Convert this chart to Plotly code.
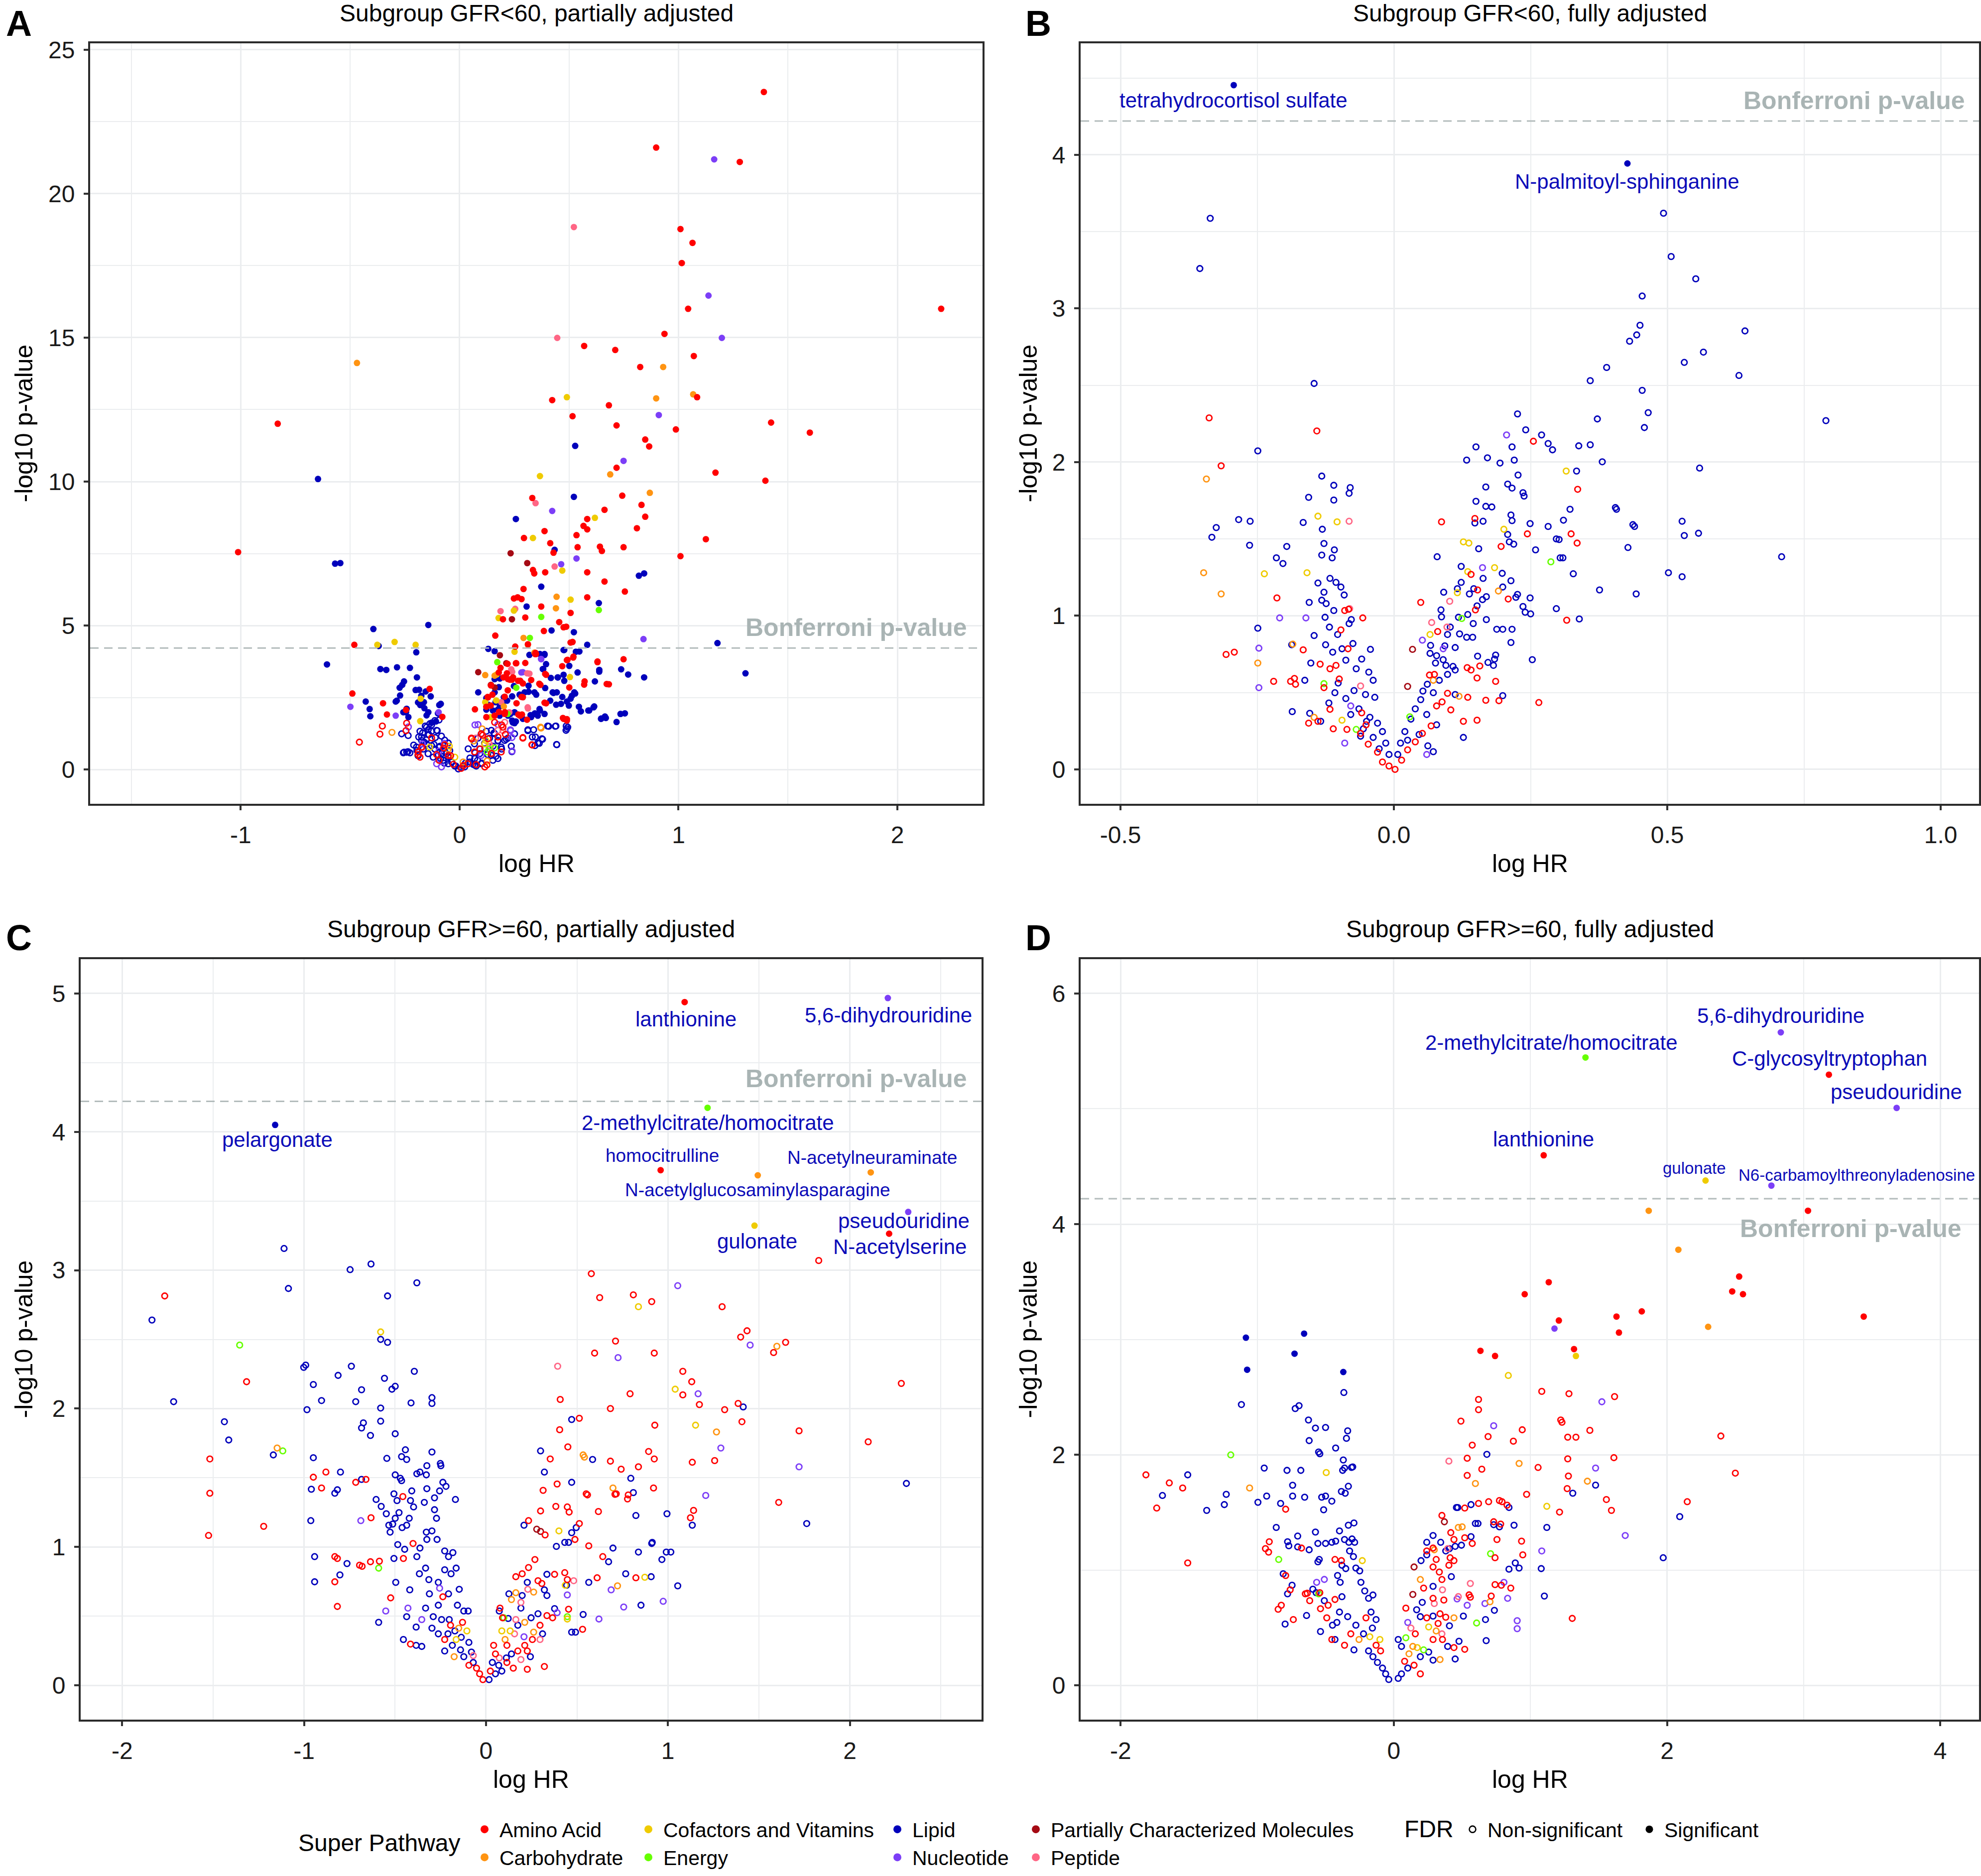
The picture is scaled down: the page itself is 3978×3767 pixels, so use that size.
import plotly.graph_objects as go

# ---- categories -------------------------------------------------------------
PATHWAY_KEYS = ["AMINO", "CARB", "COFAC", "ENERGY", "LIPID", "NUCL", "PART", "PEPT"]
PATHWAY_NAMES = ["Amino Acid", "Carbohydrate", "Cofactors and Vitamins", "Energy",
                 "Lipid", "Nucleotide", "Partially Characterized Molecules", "Peptide"]
COLOURS = {
    "AMINO": "#FF0000", "CARB": "#FF9412", "COFAC": "#EFCB00", "ENERGY": "#66FF00",
    "LIPID": "#0000BB", "NUCL": "#7C3EF7", "PART": "#A50A14", "PEPT": "#FF6685",
}
BONFERRONI = 4.22

TITLES = {
    "A": "Subgroup GFR&lt;60, partially adjusted",
    "B": "Subgroup GFR&lt;60, fully adjusted",
    "C": "Subgroup GFR&gt;=60, partially adjusted",
    "D": "Subgroup GFR&gt;=60, fully adjusted",
}

# axis limits / ticks
A_XRANGE, A_YRANGE = [-1.688, 2.389], [-1.19, 25.22]
B_XRANGE, B_YRANGE = [-0.573, 1.070], [-0.224, 4.726]
C_XRANGE, C_YRANGE = [-2.228, 2.724], [-0.248, 5.248]
D_XRANGE, D_YRANGE = [-2.293, 4.284], [-0.298, 6.298]
A_XTICKS, A_YTICKS = [-1, 0, 1, 2], [0, 5, 10, 15, 20, 25]
B_XTICKS, B_YTICKS = [-0.5, 0.0, 0.5, 1.0], [0, 1, 2, 3, 4]
C_XTICKS, C_YTICKS = [-2, -1, 0, 1, 2], [0, 1, 2, 3, 4, 5]
D_XTICKS, D_YTICKS = [-2, 0, 2, 4], [0, 2, 4, 6]

# ---- panel A : (log HR, -log10 p) ; _S = FDR significant, _N = non-significant
A_AMINO_S = [(1.39, 23.53), (0.898, 21.6), (1.28, 21.1), (1.009, 18.77), (1.064, 18.29), (1.015, 17.59),
             (1.044, 16.0), (2.20, 16.0), (0.936, 15.13), (0.569, 14.71), (0.711, 14.57), (1.07, 14.36),
             (0.825, 13.98), (0.423, 12.83), (1.085, 12.93), (0.516, 12.27), (0.682, 12.65), (0.717, 11.95),
             (1.423, 12.05), (0.988, 11.81), (1.60, 11.70), (-0.831, 12.01), (0.848, 11.46), (0.866, 11.22),
             (1.169, 10.31), (1.397, 10.03), (0.717, 10.48), (0.332, 9.43), (0.743, 9.51), (0.831, 9.19),
             (0.662, 9.02), (0.583, 8.70), (0.848, 8.78), (0.566, 8.46), (0.583, 8.34), (0.534, 8.14),
             (0.388, 8.28), (0.294, 8.04), (0.810, 8.38), (1.125, 8.0), (0.414, 7.86), (0.539, 7.72),
             (0.641, 7.74), (0.650, 7.59), (0.749, 7.72), (1.009, 7.41), (0.429, 7.53), (-1.012, 7.55),
             (0.391, 6.85), (0.583, 6.85), (0.335, 6.93), (0.341, 6.81), (0.662, 6.53), (0.292, 6.27),
             (0.755, 6.18), (0.265, 5.98), (0.248, 5.94), (0.283, 5.92), (0.583, 5.98), (0.373, 5.66),
             (0.507, 5.44), (0.300, 5.28), (0.198, 5.22), (0.163, 4.65), (0.455, 5.12), (0.475, 4.94),
             (0.487, 4.96), (0.385, 4.81), (0.507, 4.41), (0.516, 4.43), (-0.481, 4.33), (0.254, 4.27),
             (0.312, 4.35), (0.347, 4.05), (0.630, 3.75), (0.749, 3.83), (0.519, 3.89), (0.493, 3.81),
             (0.469, 3.59), (0.219, 3.67), (0.257, 3.69), (0.187, 3.53), (0.216, 3.34), (0.230, 3.12),
             (0.239, 3.12), (0.391, 3.32), (0.571, 3.06), (0.682, 2.96), (0.364, 2.98), (0.277, 3.08),
             (0.143, 2.92), (-0.490, 2.64), (-0.137, 2.80), (-0.350, 2.30), (-0.245, 2.07), (-0.332, 1.91),
             (0.128, 2.52), (0.283, 2.52), (0.122, 2.18), (0.070, 2.09), (0.388, 2.32), (0.277, 1.87),
             (0.268, 1.91), (0.207, 1.99), (0.472, 1.79), (0.490, 1.75), (-0.079, 1.83), (0.15, 2.6),
             (0.20, 3.2), (0.26, 2.3), (0.18, 2.0), (0.30, 3.7), (0.22, 2.75),
             (0.179, 3.37), (0.221, 3.14), (0.244, 3.20), (0.259, 3.69), (0.267, 3.08), (0.289, 2.99),
             (0.327, 3.11), (0.349, 4.01), (0.395, 3.29), (0.369, 2.94), (0.490, 3.80), (0.520, 3.92),
             (0.630, 3.73), (0.569, 2.95), (0.501, 2.85), (0.395, 2.30), (0.289, 2.51), (0.285, 1.91),
             (0.308, 1.73), (0.274, 1.88), (0.206, 1.93), (0.206, 2.53), (0.160, 1.87), (0.130, 2.51),
             (0.142, 2.22), (0.122, 1.82), (0.475, 1.76), (0.490, 1.70), (0.672, 2.97), (0.345, 4.01)]
A_AMINO_N = [(-0.458, 0.95), (-0.364, 1.23), (-0.353, 1.51), (-0.245, 1.35), (-0.242, 1.61), (-0.190, 0.52),
             (-0.172, 0.77), (-0.041, 0.48), (0.055, 1.07), (0.105, 1.19), (0.192, 1.55), (0.289, 1.11),
             (0.332, 0.85), (0.146, 0.56), (0.125, 0.16), (0.017, 0.14), (-0.105, 0.52), (-0.073, 0.75),
             (-0.189, 0.61), (-0.181, 0.43), (-0.068, 0.86), (-0.094, 0.32), (-0.052, 0.49), (-0.029, 0.18),
             (-0.174, 0.78), (-0.128, 1.10), (0.054, 1.09), (0.099, 1.24), (0.068, 0.61), (0.092, 0.72),
             (0.130, 1.07), (0.160, 1.64), (0.198, 1.47), (0.209, 1.22), (0.175, 1.13), (0.190, 0.61),
             (0.289, 1.09), (0.330, 0.86), (0.007, 0.04), (0.038, 0.20), (0.076, 0.17), (0.145, 0.55),
             (0.115, 0.09)]
A_CARB_S = [(-0.469, 14.12), (0.930, 13.98), (0.898, 12.89), (1.067, 13.03), (0.688, 10.25), (0.869, 9.61),
            (0.443, 6.0), (0.440, 5.60), (0.292, 4.57), (0.312, 4.33), (0.117, 3.28), (0.160, 3.26),
            (0.342, 4.06), (0.202, 2.19)]
A_CARB_N = [(-0.309, 1.29), (-0.052, 0.71), (0.064, 0.99), (0.370, 1.47), (0.103, 1.41), (0.372, 1.44),
            (0.016, 0.26), (0.126, 0.30)]
A_COFAC_S = [(0.490, 12.93), (0.367, 10.19), (0.618, 8.74), (0.335, 8.04), (0.469, 6.91), (0.507, 5.90),
             (0.178, 5.26), (0.248, 5.52), (-0.297, 4.43), (-0.201, 4.33), (-0.376, 4.33), (0.251, 4.09),
             (-0.178, 2.46), (0.169, 3.30), (-0.180, 1.68), (0.117, 2.34), (0.167, 2.40), (0.142, 1.82),
             (0.504, 3.21)]
A_COFAC_N = [(-0.047, 0.81), (0.120, 1.01), (-0.136, 0.78), (-0.022, 0.43), (0.115, 0.89)]
A_ENERGY_S = [(0.636, 5.54), (0.373, 5.30), (0.321, 4.57), (0.172, 3.73), (0.259, 2.84), (0.219, 1.93)]
A_ENERGY_N = [(0.134, 0.71), (0.160, 0.75), (0.126, 0.61)]
A_LIPID_S = [(0.528, 11.24), (-0.647, 10.09), (0.522, 9.47), (0.257, 8.70), (0.434, 7.63), (-0.569, 7.15),
             (-0.545, 7.17), (0.819, 6.73), (0.843, 6.81), (0.373, 6.35), (0.636, 5.78), (0.306, 5.66),
             (-0.394, 4.88), (-0.143, 5.02), (0.522, 4.77), (0.420, 4.83), (-0.370, 4.29), (-0.198, 4.07),
             (0.131, 4.19), (0.160, 4.11), (0.475, 4.15), (0.583, 4.33), (0.531, 4.09), (1.178, 4.39),
             (-0.606, 3.65), (-0.362, 3.49), (-0.335, 3.46), (-0.286, 3.55), (-0.227, 3.53), (0.367, 4.01),
             (0.388, 4.01), (0.382, 3.49), (0.638, 3.46), (0.738, 3.48), (0.770, 3.30), (1.306, 3.34),
             (0.417, 3.18), (0.449, 3.20), (0.478, 3.08), (0.618, 3.06), (0.843, 3.20), (-0.195, 3.20),
             (-0.254, 3.06), (-0.262, 2.94), (-0.274, 2.84), (-0.201, 2.76), (-0.175, 2.56), (0.085, 2.68),
             (0.160, 3.14), (0.184, 3.16), (0.248, 2.90), (0.315, 2.70), (0.350, 2.60), (0.429, 2.66),
             (0.469, 2.52), (0.507, 2.46), (0.528, 2.64), (0.499, 2.22), (0.367, 2.05), (0.344, 1.95),
             (0.324, 1.89), (0.545, 2.18), (0.592, 2.05), (0.612, 2.16), (0.647, 1.77), (0.668, 1.79),
             (0.717, 1.65), (0.735, 1.93), (0.755, 1.95), (-0.429, 2.36), (-0.411, 2.10), (-0.408, 1.85),
             (-0.292, 2.36), (-0.245, 1.99), (-0.163, 2.34), (-0.093, 2.24), (-0.099, 1.95), (-0.108, 1.67),
             (-0.128, 1.63), (0.122, 2.48), (0.184, 2.20), (0.257, 1.67),
             (-0.272, 2.57), (-0.287, 2.39), (-0.185, 2.77), (-0.155, 2.71), (-0.132, 2.54), (-0.190, 2.33),
             (-0.180, 2.24), (-0.161, 2.13), (-0.143, 1.99), (-0.151, 1.88), (-0.086, 2.28), (-0.242, 2.11),
             (-0.257, 1.99), (-0.234, 1.82), (0.160, 2.68), (0.179, 2.86), (0.202, 2.51), (0.217, 2.39),
             (0.240, 2.54), (0.274, 2.60), (0.297, 2.68), (0.315, 2.91), (0.342, 2.68), (0.391, 2.83),
             (0.425, 2.68), (0.444, 2.68), (0.414, 2.39), (0.441, 2.25), (0.463, 2.28), (0.490, 2.36),
             (0.513, 2.56), (0.524, 2.68), (0.365, 2.10), (0.342, 1.93), (0.357, 1.87), (0.388, 1.93),
             (0.554, 2.02), (0.588, 2.05), (0.615, 2.19), (0.638, 3.40), (0.539, 3.37), (0.501, 3.60),
             (0.475, 3.29), (0.448, 3.20), (0.380, 3.49), (0.395, 3.66), (0.388, 3.98), (0.319, 3.98),
             (0.478, 4.15), (0.547, 4.10), (0.646, 1.76), (0.664, 1.84), (0.327, 1.82), (0.289, 1.76),
             (0.251, 1.99), (0.232, 1.93), (0.122, 2.08), (0.152, 2.05), (0.175, 2.08), (0.240, 1.70),
             (0.251, 1.61), (0.130, 2.25), (0.164, 2.34), (0.198, 2.34), (0.183, 1.87), (0.221, 1.87)]
A_LIPID_N = [(-0.254, 0.60), (-0.236, 0.62), (-0.195, 0.66), (-0.152, 1.03), (-0.143, 1.39), (-0.128, 1.55),
             (-0.102, 1.35), (-0.117, 0.87), (-0.090, 0.81), (-0.070, 0.62), (-0.052, 0.44), (-0.035, 0.26),
             (-0.017, 0.12), (-0.006, 0.02), (-0.187, 1.13), (-0.169, 1.27), (-0.157, 1.51), (-0.140, 1.21),
             (-0.111, 1.11), (-0.210, 0.85), (-0.190, 0.48), (-0.166, 0.71), (-0.087, 0.38), (-0.070, 0.22),
             (0.009, 0.06), (0.026, 0.22), (0.047, 0.40), (0.070, 0.58), (0.093, 0.71), (0.114, 0.91),
             (0.137, 1.09), (0.157, 1.27), (0.175, 0.99), (0.192, 0.71), (0.213, 1.05), (0.239, 0.62),
             (0.312, 1.35), (0.332, 1.13), (0.344, 0.83), (0.364, 0.91), (0.379, 1.05), (0.402, 1.51),
             (0.440, 1.51), (0.443, 0.87), (0.490, 1.41), (0.487, 1.51), (0.102, 0.22), (0.082, 0.32),
             (0.128, 0.52), (0.152, 0.81), (0.166, 0.46), (0.076, 0.12), (0.061, 0.18),
             (-0.265, 1.24), (-0.235, 1.18), (-0.257, 0.58), (-0.242, 0.60), (-0.227, 0.58), (-0.197, 0.78),
             (-0.181, 1.33), (-0.174, 1.13), (-0.162, 0.95), (-0.151, 1.47), (-0.136, 1.59), (-0.113, 1.70),
             (-0.094, 1.72), (-0.144, 1.22), (-0.128, 1.33), (-0.105, 1.36), (-0.083, 1.16), (-0.068, 1.02),
             (-0.151, 0.89), (-0.128, 0.83), (-0.113, 0.71), (-0.094, 0.77), (-0.071, 0.83), (-0.052, 0.92),
             (-0.144, 0.55), (-0.121, 0.43), (-0.098, 0.49), (-0.075, 0.32), (-0.052, 0.20), (-0.037, 0.26),
             (-0.022, 0.12), (-0.045, 0.66), (-0.060, 0.55), (-0.083, 0.55), (-0.189, 0.49), (-0.174, 1.01),
             (0.039, 0.72), (0.068, 0.89), (0.084, 1.09), (0.099, 1.24), (0.122, 1.33), (0.145, 1.36),
             (0.160, 1.24), (0.175, 1.01), (0.206, 1.01), (0.221, 1.09), (0.251, 1.24), (0.312, 1.38),
             (0.338, 1.38), (0.346, 1.13), (0.357, 0.92), (0.376, 1.07), (0.407, 1.50), (0.437, 1.50),
             (0.486, 1.36), (0.494, 1.47), (0.444, 0.86), (0.236, 0.81), (0.244, 1.64), (0.152, 0.32),
             (0.175, 0.38), (0.145, 0.49), (0.115, 0.72), (0.092, 0.55), (0.069, 0.38), (0.046, 0.26),
             (0.023, 0.09), (0.069, 0.15), (0.099, 0.20), (0.190, 0.78)]
A_NUCL_S = [(1.163, 21.19), (1.137, 16.46), (1.198, 14.99), (0.910, 12.31), (0.749, 10.72), (0.423, 8.98),
            (0.464, 7.13), (0.534, 7.33), (0.840, 4.53), (-0.499, 2.18), (-0.292, 1.87), (-0.096, 1.99),
            (0.373, 3.83), (0.289, 3.38), (0.372, 3.84), (0.282, 3.37)]
A_NUCL_N = [(-0.070, 0.91), (0.239, 1.11), (0.070, 1.55), (0.233, 1.35), (-0.234, 1.48), (-0.170, 0.89),
            (-0.094, 0.64), (-0.105, 0.20), (-0.083, 0.09), (0.084, 1.56), (0.175, 1.56), (0.240, 0.64),
            (0.232, 1.38), (0.099, 0.49)]
A_PART_S = [(0.233, 7.51), (0.309, 7.17), (0.085, 3.38), (0.213, 3.69), (0.143, 2.94), (0.239, 5.22),
            (0.184, 3.97), (0.160, 2.85)]
A_PEPT_S = [(0.522, 18.84), (0.446, 14.99), (0.347, 9.25), (0.434, 7.05), (0.187, 5.50), (0.254, 5.58),
            (0.309, 3.34), (0.312, 2.12), (0.236, 3.48), (0.227, 1.99), (0.240, 3.39), (0.319, 3.33),
            (0.190, 2.34), (0.311, 2.16)]
A_PEPT_N = [(0.198, 1.35), (0.134, 0.91), (0.206, 1.64), (0.073, 1.09), (0.141, 0.81), (0.175, 1.36)]

# ---- panel B
B_LIPID_S = [(-0.293, 4.454), (0.427, 3.944)]
B_LIPID_N = [(-0.336, 3.587), (-0.355, 3.260), (-0.146, 2.512), (-0.249, 2.073), (-0.284, 1.626), (-0.263, 1.615),
             (-0.325, 1.574), (-0.333, 1.511), (-0.264, 1.459), (-0.196, 1.451), (-0.215, 1.377), (-0.203, 1.340),
             (-0.132, 1.909), (-0.110, 1.849), (-0.080, 1.834), (-0.082, 1.797), (-0.156, 1.771), (-0.110, 1.753),
             (-0.166, 1.607), (-0.131, 1.563), (-0.128, 1.470), (-0.109, 1.429), (-0.132, 1.395), (-0.113, 1.377),
             (-0.139, 1.213), (-0.117, 1.243), (-0.106, 1.217), (-0.097, 1.187), (-0.128, 1.153), (-0.155, 1.087),
             (-0.132, 1.101), (-0.124, 1.079), (-0.091, 1.135), (-0.126, 0.990), (-0.078, 0.975), (-0.082, 0.949),
             (-0.110, 1.034), (-0.103, 0.878), (-0.146, 0.871), (-0.118, 0.926), (-0.187, 0.811), (-0.249, 0.919),
             (-0.152, 0.692), (-0.125, 0.811), (-0.112, 0.763), (-0.095, 0.785), (-0.075, 0.819), (-0.088, 0.711),
             (-0.043, 0.781), (-0.069, 0.655), (-0.046, 0.633), (-0.038, 0.580), (-0.059, 0.718), (-0.186, 0.376),
             (-0.154, 0.365), (-0.119, 0.432), (-0.102, 0.562), (-0.073, 0.513), (-0.052, 0.487), (-0.035, 0.469),
             (-0.064, 0.394), (-0.044, 0.339), (-0.030, 0.301), (-0.021, 0.246), (-0.056, 0.264), (-0.038, 0.208),
             (-0.015, 0.171), (-0.009, 0.097), (-0.027, 0.134), (-0.050, 0.313), (-0.061, 0.216), (-0.079, 0.357),
             (-0.088, 0.461), (-0.108, 0.499), (-0.163, 0.580), (-0.134, 0.313),
             (0.493, 3.620), (0.507, 3.338), (0.552, 3.193), (0.454, 3.081), (0.450, 2.891), (0.642, 2.854),
             (0.444, 2.828), (0.431, 2.787), (0.566, 2.716), (0.389, 2.616), (0.531, 2.649), (0.631, 2.564),
             (0.359, 2.530), (0.454, 2.467), (0.465, 2.322), (0.226, 2.314), (0.372, 2.281), (0.790, 2.270),
             (0.458, 2.225), (0.241, 2.210), (0.270, 2.177), (0.150, 2.099), (0.216, 2.099), (0.338, 2.106),
             (0.359, 2.113), (0.282, 2.121), (0.290, 2.080), (0.171, 2.028), (0.220, 2.013), (0.133, 2.013),
             (0.194, 1.994), (0.381, 2.002), (0.559, 1.961), (0.334, 1.942), (0.227, 1.916), (0.208, 1.857),
             (0.216, 1.831), (0.168, 1.838), (0.236, 1.801), (0.238, 1.779), (0.150, 1.745), (0.168, 1.712),
             (0.179, 1.708), (0.322, 1.693), (0.405, 1.704), (0.407, 1.693), (0.214, 1.656), (0.310, 1.622),
             (0.163, 1.615), (0.148, 1.604), (0.216, 1.619), (0.249, 1.600), (0.282, 1.581), (0.527, 1.615),
             (0.437, 1.593), (0.440, 1.581), (0.297, 1.500), (0.302, 1.496), (0.531, 1.522), (0.557, 1.537),
             (0.208, 1.529), (0.211, 1.481), (0.219, 1.466), (0.428, 1.444), (0.259, 1.429), (0.155, 1.436),
             (0.309, 1.377), (0.304, 1.377), (0.709, 1.384), (0.079, 1.384), (0.328, 1.273), (0.502, 1.280),
             (0.527, 1.254), (0.198, 1.276), (0.163, 1.243), (0.123, 1.321), (0.123, 1.217), (0.376, 1.168),
             (0.214, 1.228), (0.443, 1.142), (0.199, 1.187), (0.146, 1.176), (0.138, 1.142), (0.116, 1.176),
             (0.091, 1.153), (0.162, 1.105), (0.169, 1.124), (0.226, 1.139), (0.223, 1.120), (0.249, 1.116),
             (0.297, 1.046), (0.236, 1.060), (0.240, 1.023), (0.339, 0.979), (0.250, 1.012), (0.152, 1.064),
             (0.135, 1.008), (0.145, 0.949), (0.169, 0.975), (0.188, 0.912), (0.199, 0.912), (0.216, 0.912),
             (0.086, 1.038), (0.087, 0.993), (0.118, 0.990), (0.103, 0.926), (0.098, 0.878), (0.120, 0.882),
             (0.133, 0.860), (0.144, 0.860), (0.214, 0.826), (0.067, 0.807), (0.093, 0.804), (0.112, 0.793),
             (0.153, 0.737), (0.186, 0.744), (0.184, 0.718), (0.172, 0.696), (0.182, 0.677), (0.066, 0.755),
             (0.078, 0.740), (0.090, 0.714), (0.076, 0.692), (0.095, 0.677), (0.108, 0.670), (0.112, 0.647),
             (0.098, 0.618), (0.083, 0.580), (0.061, 0.554), (0.053, 0.510), (0.072, 0.499), (0.112, 0.487),
             (0.199, 0.480), (0.253, 0.714), (0.127, 0.208), (0.049, 0.454), (0.039, 0.394), (0.031, 0.327),
             (0.060, 0.357), (0.078, 0.290), (0.020, 0.246), (0.012, 0.171), (0.007, 0.097), (0.025, 0.190),
             (0.046, 0.227), (0.072, 0.115), (0.062, 0.153)]
B_AMINO_N = [(-0.338, 2.288), (-0.316, 1.976), (-0.141, 2.203), (-0.307, 0.748), (-0.292, 0.763), (-0.214, 1.116),
             (-0.166, 0.778), (-0.220, 0.573), (-0.189, 0.573), (-0.182, 0.592), (-0.180, 0.554), (-0.090, 1.034),
             (-0.083, 1.042), (-0.057, 0.986), (-0.097, 0.908), (-0.084, 0.785), (-0.135, 0.685), (-0.117, 0.655),
             (-0.128, 0.532), (-0.100, 0.588), (-0.106, 0.677), (-0.117, 0.391), (-0.139, 0.313), (-0.111, 0.264),
             (-0.156, 0.301), (-0.086, 0.260), (-0.059, 0.368), (-0.051, 0.290), (-0.061, 0.234), (-0.047, 0.164),
             (-0.030, 0.112), (-0.021, 0.048), (-0.009, 0.022), (0.002, 0.0), (0.014, 0.060), (0.025, 0.127),
             (0.039, 0.179), (0.052, 0.234), (0.068, 0.283), (0.088, 0.439), (0.087, 1.611), (0.148, 1.633),
             (0.141, 1.269), (0.196, 1.451), (0.244, 1.533), (0.255, 2.136), (0.336, 1.823), (0.324, 1.533),
             (0.335, 1.473), (0.316, 0.971), (0.049, 1.087), (0.153, 1.168), (0.149, 1.038), (0.209, 1.109),
             (0.134, 0.662), (0.141, 0.647), (0.157, 0.673), (0.186, 0.573), (0.152, 0.595), (0.135, 0.469),
             (0.192, 0.447), (0.168, 0.450), (0.265, 0.435), (0.152, 0.320), (0.104, 0.387), (0.127, 0.313),
             (0.078, 0.413), (0.065, 0.614), (0.080, 0.897), (0.074, 0.618), (0.098, 0.495)]
B_CARB_N = [(-0.343, 1.890), (-0.348, 1.280), (-0.316, 1.142), (-0.249, 0.692), (-0.185, 0.815), (0.191, 1.161),
            (0.119, 0.476), (-0.146, 0.339), (0.072, 0.580)]
B_COFAC_N = [(-0.237, 1.273), (-0.159, 1.280), (-0.139, 1.648), (-0.104, 1.611), (0.315, 1.942), (0.127, 1.481),
             (0.137, 1.473), (0.116, 1.150), (0.135, 1.287), (0.201, 1.563), (0.184, 1.313), (0.066, 0.878),
             (-0.095, 0.320)]
B_NUCL_N = [(-0.209, 0.986), (-0.161, 0.986), (-0.247, 0.789), (-0.247, 0.532), (0.206, 2.177), (0.162, 1.313),
            (-0.079, 0.413), (-0.090, 0.171), (0.052, 0.841), (0.090, 0.785), (0.060, 0.097)]
B_PEPT_N = [(-0.082, 1.615), (0.102, 1.094), (0.069, 0.956), (0.097, 0.926), (-0.081, 1.046), (-0.061, 0.543)]
B_ENERGY_N = [(0.287, 1.351), (0.124, 0.982), (-0.128, 0.558), (0.029, 0.342), (-0.069, 0.260)]
B_PART_N = [(0.034, 0.781), (0.025, 0.540)]

# ---- panel C
C_AMINO_S = [(1.092, 4.938), (0.960, 3.723), (2.216, 3.264)]
C_AMINO_N = [(-1.766, 2.814), (-1.316, 2.194), (-1.518, 1.636), (-1.518, 1.388), (-1.525, 1.083), (-1.222, 1.149),
             (-0.949, 1.504), (-0.904, 1.426), (-0.880, 1.541), (-0.831, 0.930), (-0.817, 0.917), (-0.831, 0.748),
             (-0.817, 0.570), (-0.681, 0.860), (-0.695, 0.868), (-0.635, 0.893), (-0.716, 1.467), (-0.660, 1.488),
             (-0.632, 1.211), (-0.457, 1.364), (-0.401, 1.025), (-0.454, 0.917), (-0.524, 0.632), (-0.586, 0.897),
             (-0.415, 0.298), (-0.227, 0.331), (-0.129, 0.455), (-0.052, 0.124), (-0.035, 0.083), (-0.017, 0.041),
             (-0.094, 0.145), (-0.237, 0.640), (-0.195, 0.434),
             (0.579, 2.975), (0.625, 2.802), (0.810, 2.822), (0.911, 2.773), (1.298, 2.736), (1.435, 2.562),
             (1.400, 2.517), (1.647, 2.479), (1.581, 2.405), (0.597, 2.401), (0.712, 2.488), (0.925, 2.401),
             (1.082, 2.269), (1.131, 2.194), (1.082, 2.099), (0.792, 2.107), (0.408, 2.066), (0.684, 2.000),
             (1.173, 2.029), (1.312, 1.992), (1.386, 2.037), (1.407, 1.905), (0.928, 1.880), (1.721, 1.839),
             (2.101, 1.760), (2.283, 2.182), (0.405, 1.847), (0.513, 1.930), (0.450, 1.723), (0.684, 1.620),
             (0.743, 1.562), (0.838, 1.579), (0.894, 1.690), (0.925, 1.636), (1.134, 1.612), (1.257, 1.624),
             (0.353, 1.636), (0.391, 1.455), (0.314, 1.409), (0.716, 1.384), (0.709, 1.380), (0.782, 1.376),
             (0.921, 1.426), (0.551, 1.384), (0.558, 1.376), (0.778, 1.347), (1.609, 1.322), (1.141, 1.264),
             (1.124, 1.211), (0.618, 1.256), (0.513, 1.169), (0.447, 1.289), (0.457, 1.252), (0.384, 1.293),
             (0.300, 1.260), (0.234, 1.190), (0.325, 1.087), (0.489, 1.054), (0.565, 1.008), (0.642, 0.930),
             (0.824, 0.777), (0.611, 0.777), (0.531, 0.405), (0.377, 0.802), (0.433, 0.814), (0.447, 0.764),
             (0.307, 0.736), (0.269, 0.909), (0.234, 0.851), (0.164, 0.785), (0.199, 0.806), (0.286, 0.756),
             (0.335, 0.504), (0.297, 0.434), (0.454, 0.550), (0.366, 0.488), (0.077, 0.558), (0.091, 0.488),
             (0.321, 0.136), (0.213, 0.289), (0.227, 0.248), (0.227, 0.116), (0.115, 0.289), (0.175, 0.248),
             (0.052, 0.227), (0.115, 0.165), (0.042, 0.289), (0.024, 0.103), (0.150, 0.124), (0.255, 0.331),
             (1.829, 3.070)]
C_CARB_S = [(1.494, 3.686), (2.115, 3.707)]
C_CARB_N = [(-1.148, 1.715), (-0.150, 0.413), (-0.175, 0.207), (1.599, 2.450), (1.267, 1.831), (0.534, 1.665),
            (0.541, 1.649), (0.698, 1.426), (0.723, 0.719), (0.164, 0.669), (0.140, 0.620), (0.262, 0.674),
            (0.213, 0.455), (0.262, 0.384), (0.105, 0.331)]
C_COFAC_S = [(1.476, 3.322)]
C_COFAC_N = [(-0.579, 2.554), (-0.105, 0.393), (-0.164, 0.331), (0.838, 2.736), (1.040, 2.140), (1.152, 1.880),
             (0.401, 1.116), (0.873, 0.781), (0.436, 0.723), (0.447, 0.479), (0.087, 0.393), (0.133, 0.393)]
C_ENERGY_S = [(1.218, 4.174)]
C_ENERGY_N = [(-1.354, 2.459), (-1.117, 1.694), (-0.590, 0.847), (0.447, 0.496), (0.098, 0.488)]
C_LIPID_S = [(-1.159, 4.05)]
C_LIPID_N = [(-1.836, 2.640), (-1.717, 2.050), (-1.438, 1.905), (-1.414, 1.773), (-1.169, 1.665), (-1.110, 3.157),
             (-1.086, 2.868), (-1.002, 2.298), (-0.991, 2.314), (-0.984, 1.992), (-0.949, 2.174), (-0.904, 2.058),
             (-0.949, 1.645), (-0.960, 1.417), (-0.963, 1.190), (-0.942, 0.930), (-0.942, 0.748), (-0.803, 0.798),
             (-0.764, 0.880), (-0.831, 1.388), (-0.800, 1.541), (-0.817, 1.413), (-0.747, 3.004), (-0.740, 2.306),
             (-0.813, 2.240), (-0.716, 2.050), (-0.674, 1.897), (-0.684, 1.860), (-0.635, 1.806), (-0.684, 1.488),
             (-0.632, 3.045), (-0.684, 2.136), (-0.579, 2.500), (-0.541, 2.479), (-0.541, 2.814), (-0.558, 2.219),
             (-0.579, 2.004), (-0.579, 1.909), (-0.517, 2.140), (-0.499, 2.161), (-0.499, 1.818), (-0.545, 1.640),
             (-0.499, 1.521), (-0.471, 1.496), (-0.464, 1.479), (-0.443, 1.702), (-0.464, 1.653), (-0.436, 1.632),
             (-0.604, 1.343), (-0.576, 1.293), (-0.548, 1.240), (-0.534, 1.157), (-0.527, 1.107), (-0.506, 1.384),
             (-0.489, 1.335), (-0.478, 1.248), (-0.499, 1.207), (-0.513, 1.165), (-0.461, 1.140), (-0.485, 1.017),
             (-0.436, 1.157), (-0.447, 0.983), (-0.422, 1.207), (-0.398, 1.289), (-0.415, 1.335), (-0.408, 1.405),
             (-0.380, 2.909), (-0.394, 2.269), (-0.412, 2.041), (-0.297, 2.079), (-0.297, 2.037), (-0.297, 1.686),
             (-0.380, 1.529), (-0.363, 1.541), (-0.325, 1.587), (-0.328, 1.521), (-0.325, 1.421), (-0.339, 1.322),
             (-0.283, 1.355), (-0.272, 1.207), (-0.283, 1.269), (-0.248, 1.587), (-0.251, 1.603), (-0.237, 1.467),
             (-0.255, 1.405), (-0.220, 1.438), (-0.168, 1.343), (-0.297, 1.116), (-0.328, 1.107), (-0.269, 1.054),
             (-0.325, 1.054), (-0.363, 0.992), (-0.380, 0.930), (-0.506, 0.917), (-0.590, 0.455), (-0.496, 0.744),
             (-0.419, 0.690), (-0.436, 0.496), (-0.454, 0.331), (-0.384, 0.289), (-0.353, 0.281), (-0.366, 0.806),
             (-0.332, 0.847), (-0.314, 0.764), (-0.262, 0.744), (-0.227, 0.971), (-0.206, 0.930), (-0.182, 0.959),
             (-0.227, 0.835), (-0.192, 0.806), (-0.164, 0.847), (-0.206, 0.661), (-0.262, 0.579), (-0.311, 0.661),
             (-0.332, 0.558), (-0.297, 0.413), (-0.262, 0.372), (-0.185, 0.289), (-0.147, 0.694), (-0.157, 0.579),
             (-0.122, 0.537), (-0.098, 0.537), (-0.136, 0.347), (-0.094, 0.310), (-0.080, 0.240), (-0.122, 0.207),
             (-0.070, 0.165), (-0.227, 0.248), (-0.209, 0.372), (-0.140, 0.256), (-0.384, 0.421), (-0.290, 0.496),
             (-0.244, 0.475), (-0.202, 0.475), (-0.171, 0.393),
             (1.414, 2.012), (0.471, 1.921), (0.300, 1.694), (0.586, 1.632), (0.321, 1.541), (0.471, 1.467),
             (0.796, 1.496), (0.810, 1.393), (0.824, 1.227), (0.995, 1.240), (1.134, 1.157), (1.763, 1.169),
             (0.496, 1.140), (0.209, 1.157), (0.471, 1.103), (0.454, 1.033), (0.698, 0.992), (0.914, 1.033),
             (0.911, 1.025), (0.991, 0.963), (1.016, 0.963), (0.838, 0.963), (0.967, 0.909), (0.908, 0.785),
             (0.768, 0.806), (0.674, 0.893), (0.565, 0.744), (1.054, 0.719), (0.852, 0.579), (0.534, 0.512),
             (0.492, 0.384), (0.471, 0.384), (0.335, 0.802), (0.321, 0.690), (0.387, 1.004), (0.433, 1.033),
             (0.227, 0.744), (0.335, 0.649), (0.377, 0.554), (0.199, 0.649), (0.126, 0.661), (0.192, 0.558),
             (0.122, 0.483), (0.248, 0.488), (0.286, 0.517), (0.311, 0.372), (0.035, 0.165), (0.070, 0.145),
             (0.052, 0.083), (0.087, 0.103), (0.140, 0.227), (0.017, 0.041), (0.244, 0.207), (0.112, 0.198),
             (0.175, 0.434), (0.443, 0.723), (0.073, 0.537), (2.311, 1.459)]
C_NUCL_S = [(2.209, 4.967), (2.321, 3.421)]
C_NUCL_N = [(-0.688, 1.190), (-0.551, 0.537), (-0.429, 0.558), (-0.353, 0.475), (-0.255, 0.702),
            (1.054, 2.888), (1.452, 2.459), (0.726, 2.368), (1.166, 2.107), (1.291, 1.715), (1.721, 1.579),
            (1.208, 1.372), (0.688, 0.690), (0.757, 0.566), (0.974, 0.607), (0.621, 0.479), (0.391, 0.525),
            (0.447, 0.653), (0.209, 0.351)]
C_PART_N = [(0.279, 1.128), (0.300, 1.112)]
C_PEPT_N = [(-0.070, 0.215), (0.394, 2.306), (0.482, 0.756), (0.230, 0.694), (0.164, 0.475), (0.192, 0.186),
            (0.157, 0.372), (0.073, 0.198), (0.297, 0.331), (0.192, 0.599)]

# ---- panel D
D_AMINO_S = [(3.185, 5.296), (1.097, 4.597), (3.032, 4.116), (1.134, 3.496), (0.958, 3.392), (2.528, 3.545),
             (2.477, 3.416), (2.556, 3.392), (1.815, 3.243), (1.630, 3.198), (3.440, 3.198), (1.208, 3.164),
             (1.648, 3.059), (1.319, 2.916), (0.634, 2.901), (0.741, 2.856)]
D_AMINO_N = [(-1.815, 1.825), (-1.644, 1.755), (-1.546, 1.711), (-1.736, 1.537), (-1.509, 1.061), (-0.792, 1.527),
             (-0.912, 1.245), (-0.940, 1.185), (-0.917, 1.155), (-0.676, 1.190), (-0.759, 0.828), (-0.847, 0.659),
             (-0.824, 0.694), (-0.792, 0.952), (-0.736, 0.570), (-0.634, 0.798), (-0.616, 0.734), (-0.542, 0.803),
             (-0.481, 0.694), (-0.491, 0.585), (-0.431, 0.744), (-0.454, 0.397), (-0.431, 1.091), (-0.204, 0.585),
             (-0.315, 0.446), (-0.361, 0.347), (-0.130, 0.347), (-0.097, 0.298), (-0.537, 0.664), (-0.384, 1.081),
             (-0.648, 0.793),
             (0.620, 2.479), (0.620, 2.390), (0.491, 2.291), (0.690, 2.157), (0.574, 2.083), (0.537, 1.969),
             (0.644, 1.874), (0.537, 1.820), (0.875, 2.117), (0.940, 2.216), (0.972, 1.656), (1.056, 1.889),
             (1.083, 2.549), (1.222, 2.301), (1.231, 2.281), (1.273, 2.152), (1.333, 2.152), (1.435, 2.211),
             (1.282, 2.529), (1.616, 2.504), (1.611, 1.974), (1.273, 1.964), (1.278, 1.815), (1.269, 1.706),
             (1.556, 1.611), (1.593, 1.517), (2.394, 2.162), (2.500, 1.840), (2.148, 1.592), (1.213, 1.502),
             (1.306, 0.580), (0.935, 1.250), (0.944, 1.131), (0.856, 0.843), (0.829, 1.562), (0.792, 1.592),
             (0.731, 1.418), (0.755, 1.264), (0.741, 0.873), (0.787, 0.868), (0.741, 1.106), (0.713, 0.774),
             (0.560, 0.764), (0.551, 0.784), (0.324, 0.536), (0.338, 0.620), (0.380, 0.590), (0.519, 0.312),
             (0.440, 0.327), (0.440, 1.264), (0.519, 1.279), (0.574, 1.230), (0.620, 1.577), (0.694, 1.592),
             (0.773, 1.602), (0.782, 1.398), (0.519, 1.537), (0.352, 1.473), (0.417, 1.324), (0.287, 1.190),
             (0.241, 1.165), (0.310, 1.091), (0.412, 1.106), (0.403, 1.041), (0.440, 1.081), (0.287, 1.026),
             (0.333, 0.982), (0.352, 0.917), (0.366, 0.739), (0.287, 0.754), (0.218, 0.843), (0.088, 0.669),
             (0.241, 0.585), (0.157, 0.446), (0.148, 0.174), (0.194, 0.099), (0.079, 0.208), (0.287, 0.397),
             (0.356, 0.397)]
D_CARB_S = [(1.866, 4.116), (2.083, 3.778), (2.301, 3.109)]
D_CARB_N = [(-1.056, 1.711), (-0.255, 0.397), (0.597, 1.750), (0.917, 1.924), (1.417, 1.770), (0.704, 0.724),
            (0.440, 0.585), (0.472, 1.369), (0.500, 1.374), (0.296, 1.175), (0.194, 0.917), (0.111, 0.273),
            (0.338, 0.223), (0.139, 0.337), (0.310, 0.471)]
D_COFAC_S = [(2.282, 4.378), (1.333, 2.856)]
D_COFAC_N = [(-0.495, 1.845), (-0.231, 1.081), (-0.176, 0.421), (-0.102, 0.397), (0.838, 2.687), (1.120, 1.552),
             (0.255, 0.506), (0.171, 0.327)]
D_ENERGY_S = [(1.403, 5.445)]
D_ENERGY_N = [(-1.194, 1.998), (-0.843, 1.091), (-0.551, 0.793), (0.708, 1.141), (0.606, 0.540), (0.088, 0.412),
              (0.218, 0.307)]
D_LIPID_S = [(-1.083, 3.015), (-0.657, 3.050), (-0.727, 2.876), (-1.074, 2.737), (-0.370, 2.717)]
D_LIPID_N = [(-1.694, 1.646), (-1.509, 1.825), (-1.370, 1.517), (-1.241, 1.567), (-1.227, 1.656), (-1.116, 2.435),
             (-0.995, 1.587), (-0.949, 1.884), (-0.931, 1.641), (-0.861, 1.369), (-0.829, 1.577), (-0.782, 1.864),
             (-0.741, 1.641), (-0.741, 1.735), (-0.681, 1.864), (-0.653, 1.631), (-0.722, 2.400), (-0.694, 2.425),
             (-0.625, 2.301), (-0.574, 2.231), (-0.500, 2.236), (-0.620, 2.122), (-0.551, 2.023), (-0.542, 2.008),
             (-0.426, 2.058), (-0.500, 1.641), (-0.528, 1.631), (-0.514, 1.522), (-0.454, 1.597), (-0.384, 1.681),
             (-0.356, 1.666), (-0.375, 1.864), (-0.361, 1.884), (-0.370, 1.954), (-0.347, 2.142), (-0.338, 2.207),
             (-0.310, 1.889), (-0.301, 1.894), (-0.333, 1.726), (-0.366, 2.539), (-0.778, 1.245), (-0.769, 1.210),
             (-0.704, 1.294), (-0.704, 1.200), (-0.778, 0.793), (-0.745, 0.868), (-0.796, 0.531), (-0.639, 0.605),
             (-0.593, 0.833), (-0.569, 0.803), (-0.509, 0.734), (-0.537, 0.466), (-0.574, 1.329), (-0.556, 1.230),
             (-0.500, 1.230), (-0.620, 1.175), (-0.556, 1.071), (-0.546, 1.091), (-0.449, 0.521), (-0.431, 0.397),
             (-0.417, 0.545), (-0.398, 0.635), (-0.380, 0.768), (-0.393, 0.893), (-0.412, 0.952), (-0.380, 1.041),
             (-0.454, 1.240), (-0.426, 1.250), (-0.398, 1.339), (-0.361, 1.264), (-0.329, 1.240), (-0.306, 1.269),
             (-0.287, 1.240), (-0.324, 1.165), (-0.296, 1.116), (-0.333, 1.388), (-0.292, 1.408), (-0.352, 1.012),
             (-0.278, 1.017), (-0.250, 0.992), (-0.241, 0.893), (-0.213, 0.818), (-0.185, 0.754), (-0.153, 0.783),
             (-0.167, 0.635), (-0.278, 0.521), (-0.338, 0.595), (-0.292, 0.307), (-0.222, 0.446), (-0.185, 0.298),
             (-0.153, 0.248), (-0.120, 0.198), (-0.083, 0.149), (-0.060, 0.099), (-0.037, 0.050), (-0.157, 0.496),
             (-0.130, 0.570), (-0.810, 0.967),
             (0.681, 2.003), (1.310, 1.666), (1.477, 1.736), (2.093, 1.463), (1.972, 1.106), (1.120, 1.369),
             (1.079, 1.012), (1.102, 0.774), (0.889, 1.061), (0.917, 1.017), (0.880, 1.388), (0.843, 1.542),
             (0.731, 1.393), (0.773, 1.374), (0.843, 1.007), (0.736, 0.650), (0.671, 0.570), (0.676, 0.387),
             (0.407, 0.516), (0.287, 0.600), (0.509, 0.600), (0.477, 0.382), (0.449, 0.228), (0.495, 1.215),
             (0.458, 1.542), (0.468, 1.542), (0.449, 1.205), (0.407, 1.185), (0.565, 1.289), (0.597, 1.403),
             (0.616, 1.403), (0.565, 1.567), (0.287, 1.299), (0.241, 1.240), (0.343, 1.240), (0.380, 1.165),
             (0.421, 0.942), (0.287, 0.858), (0.199, 1.081), (0.241, 1.131), (0.208, 0.719), (0.167, 0.655),
             (0.194, 0.595), (0.032, 0.397), (0.056, 0.337), (0.255, 0.288), (0.287, 0.218), (0.194, 0.248),
             (0.102, 0.149), (0.056, 0.099), (0.032, 0.060), (0.394, 0.337)]
D_NUCL_S = [(2.833, 5.663), (3.681, 5.008), (2.764, 4.334), (1.176, 3.094)]
D_NUCL_N = [(-0.509, 0.918), (-0.565, 0.893), (0.731, 2.251), (1.523, 2.459), (1.477, 1.884), (1.694, 1.299),
            (1.083, 1.165), (0.806, 0.893), (0.833, 0.754), (0.903, 0.560), (0.903, 0.491), (0.667, 0.709),
            (0.537, 0.694), (0.463, 0.749), (0.102, 0.545)]
D_PART_N = [(0.370, 1.418), (0.148, 1.026), (0.139, 0.788)]
D_PEPT_N = [(0.403, 1.944), (0.560, 0.883), (0.472, 0.769), (0.394, 1.185), (0.356, 0.828), (0.296, 0.709),
            (0.125, 0.496), (0.352, 0.446)]

# ---- labelled metabolites (name, log HR, -log10 p)
B_LABELS = [("tetrahydrocortisol sulfate", -0.293, 4.454), ("N-palmitoyl-sphinganine", 0.427, 3.944)]
C_LABELS = [("lanthionine", 1.092, 4.938), ("5,6-dihydrouridine", 2.209, 4.967),
            ("2-methylcitrate/homocitrate", 1.218, 4.174), ("pelargonate", -1.159, 4.05),
            ("homocitrulline", 0.960, 3.723), ("N-acetylglucosaminylasparagine", 1.494, 3.686),
            ("N-acetylneuraminate", 2.115, 3.707), ("pseudouridine", 2.321, 3.421),
            ("gulonate", 1.476, 3.322), ("N-acetylserine", 2.216, 3.264)]
D_LABELS = [("5,6-dihydrouridine", 2.833, 5.663), ("2-methylcitrate/homocitrate", 1.403, 5.445),
            ("C-glycosyltryptophan", 3.185, 5.296), ("pseudouridine", 3.681, 5.008),
            ("lanthionine", 1.097, 4.597), ("gulonate", 2.282, 4.378),
            ("N6-carbamoylthreonyladenosine", 2.764, 4.334)]

# ---- styling ---------------------------------------------------------------
FONT = "Liberation Sans, Arial, Helvetica, sans-serif"
W, H = 3978, 3767
GRID = "#EBEDEF"
LABEL_BLUE = "#0B0BB8"
BONF_GREY = "#A9B4B4"

# label nudges: (dx px, dy px, font size)
NUDGE = {
    ("B", "tetrahydrocortisol sulfate"): (0, -31, 42),
    ("B", "N-palmitoyl-sphinganine"): (0, -36, 42),
    ("C", "lanthionine"): (3, -34, 42),
    ("C", "5,6-dihydrouridine"): (1, -34, 42),
    ("C", "2-methylcitrate/homocitrate"): (1, -30, 42),
    ("C", "pelargonate"): (4, -30, 42),
    ("C", "homocitrulline"): (3, 29, 37),
    ("C", "N-acetylglucosaminylasparagine"): (0, -30, 37),
    ("C", "N-acetylneuraminate"): (3, 30, 37),
    ("C", "pseudouridine"): (-9, -18, 42),
    ("C", "gulonate"): (5, -31, 42),
    ("C", "N-acetylserine"): (22, -26, 42),
    ("D", "5,6-dihydrouridine"): (0, 34, 42),
    ("D", "2-methylcitrate/homocitrate"): (-68, 30, 42),
    ("D", "C-glycosyltryptophan"): (1, 32, 42),
    ("D", "pseudouridine"): (-1, 32, 42),
    ("D", "lanthionine"): (0, 32, 42),
    ("D", "gulonate"): (-22, 25, 33),
    ("D", "N6-carbamoylthreonyladenosine"): (171, 21, 33),
}

# panel boxes in pixels: left, right, top, bottom
BOX = {"A": (181, 1973, 87, 1614), "B": (2170, 3974, 87, 1614),
       "C": (162, 1971, 1926, 3453), "D": (2170, 3974, 1926, 3453)}
YTITLE_OFF = {"A": 134, "B": 106, "C": 115, "D": 106}
BONF_POS = {"A": (-30, 41), "B": (-27, 41), "C": (-28, 46), "D": (-34, -60)}

PANEL_AXES = {
    "A": (A_XRANGE, A_YRANGE, A_XTICKS, A_YTICKS, "g"),
    "B": (B_XRANGE, B_YRANGE, B_XTICKS, B_YTICKS, ".1f"),
    "C": (C_XRANGE, C_YRANGE, C_XTICKS, C_YTICKS, "g"),
    "D": (D_XRANGE, D_YRANGE, D_XTICKS, D_YTICKS, "g"),
}
LABELS = {"B": B_LABELS, "C": C_LABELS, "D": D_LABELS}


def halfway(ticks):
    step = ticks[1] - ticks[0]
    return [ticks[0] - step / 2] + [t + step / 2 for t in ticks]


fig = go.Figure()
annotations = []
shapes = []
draw_order = ["LIPID", "NUCL", "PEPT", "PART", "ENERGY", "COFAC", "CARB", "AMINO"]

for i, p in enumerate("ABCD"):
    sfx = "" if i == 0 else str(i + 1)
    xa, ya = "x" + sfx, "y" + sfx
    for kind in ("N", "S"):
        for key in draw_order:
            pts = globals().get(f"{p}_{key}_{kind}", [])
            if not pts:
                continue
            if kind == "S":
                marker = dict(symbol="circle", size=13, color=COLOURS[key])
            else:
                marker = dict(symbol="circle-open", size=11.5, color=COLOURS[key], line=dict(width=2.8))
            fig.add_trace(go.Scatter(
                x=[v[0] for v in pts], y=[v[1] for v in pts], mode="markers",
                marker=marker, xaxis=xa, yaxis=ya, showlegend=False, hoverinfo="skip",
            ))

    xr, yr, xt, yt, fmt = PANEL_AXES[p]
    l, r, t, b = BOX[p]
    common = dict(showline=True, mirror=True, linecolor="#2B2B2B", linewidth=4, zeroline=False,
                  showgrid=True, gridcolor=GRID, gridwidth=3, ticks="outside", ticklen=9, tickwidth=4,
                  tickcolor="#333333", tickfont=dict(size=48, color="#1A1A1A", family=FONT),
                  ticklabelstandoff=8, tickmode="array", automargin=False)
    fig.layout["xaxis" + sfx] = dict(
        common, domain=[l / W, r / W], range=xr, anchor=ya, tickvals=xt,
        ticktext=[format(v, fmt) for v in xt],
        minor=dict(tickmode="array", tickvals=halfway(xt), showgrid=True, gridcolor=GRID, gridwidth=2, ticks=""),
    )
    fig.layout["yaxis" + sfx] = dict(
        common, domain=[1 - b / H, 1 - t / H], range=yr, anchor=xa, tickvals=yt,
        ticktext=[format(v, "g") for v in yt],
        minor=dict(tickmode="array", tickvals=halfway(yt), showgrid=True, gridcolor=GRID, gridwidth=2, ticks=""),
    )

    xd, yd = xa + " domain", ya + " domain"
    # Bonferroni threshold
    shapes.append(dict(type="line", xref=xd, yref=ya, x0=0, x1=1, y0=BONFERRONI, y1=BONFERRONI,
                       line=dict(color="#B3BCBC", width=3, dash="17px,11px"), layer="above"))
    bx, by = BONF_POS[p]
    annotations.append(dict(text="<b>Bonferroni p-value</b>", xref=xd, yref=ya, x=1, y=BONFERRONI,
                            xanchor="right", yanchor="middle", xshift=bx, yshift=by, showarrow=False,
                            font=dict(size=50, color=BONF_GREY, family=FONT)))
    # titles
    annotations.append(dict(text=TITLES[p], xref=xd, yref=yd, x=0.5, y=1, yshift=61, xanchor="center",
                            yanchor="middle", showarrow=False, font=dict(size=48, color="black", family=FONT)))
    annotations.append(dict(text=f"<b>{p}</b>", xref="paper", yref="paper",
                            x=(38 if p in "AC" else 2085) / W, y=1 - (47 if p in "AB" else 1883) / H,
                            xanchor="center", yanchor="middle", showarrow=False,
                            font=dict(size=72, color="black", family=FONT)))
    annotations.append(dict(text="log HR", xref=xd, yref=yd, x=0.5, y=0, yshift=-120, xanchor="center",
                            yanchor="middle", showarrow=False, font=dict(size=50, color="black", family=FONT)))
    annotations.append(dict(text="-log10 p-value", xref=xd, yref=yd, x=0, y=0.5, xshift=-YTITLE_OFF[p],
                            textangle=-90, xanchor="center", yanchor="middle", showarrow=False,
                            font=dict(size=50, color="black", family=FONT)))
    for name, lx, ly in LABELS.get(p, []):
        dx, dy, fs = NUDGE[(p, name)]
        annotations.append(dict(text=name, xref=xa, yref=ya, x=lx, y=ly, xshift=dx, yshift=dy,
                                xanchor="center", yanchor="middle", showarrow=False,
                                font=dict(size=fs, color=LABEL_BLUE, family=FONT)))

# ---- legends: one column per pair of pathways, then one per FDR class
legend_cols = [("legend", 0), ("legend2", 2), ("legend3", 4), ("legend4", 6)]
for leg, start in legend_cols:
    for k in (start, start + 1):
        key = PATHWAY_KEYS[k]
        fig.add_trace(go.Scatter(x=[None], y=[None], mode="markers", name=PATHWAY_NAMES[k],
                                 marker=dict(symbol="circle", size=16, color=COLOURS[key]),
                                 legend=leg, showlegend=True, hoverinfo="skip"))
fig.add_trace(go.Scatter(x=[None], y=[None], mode="markers", name="Non-significant",
                         marker=dict(symbol="circle-open", size=13, color="black", line=dict(width=2.6)),
                         legend="legend5", showlegend=True, hoverinfo="skip"))
fig.add_trace(go.Scatter(x=[None], y=[None], mode="markers", name="Significant",
                         marker=dict(symbol="circle", size=15, color="black"),
                         legend="legend6", showlegend=True, hoverinfo="skip"))

leg_font = dict(size=41, color="black", family=FONT)
leg_y = 1 - 3640 / H
legend_x = {"legend": 943, "legend2": 1272, "legend3": 1772, "legend4": 2050,
            "legend5": 2927, "legend6": 3282}
for leg, px in legend_x.items():
    fig.layout[leg] = dict(x=px / W, y=leg_y, xanchor="left", yanchor="top", orientation="v",
                           font=leg_font, bgcolor="rgba(0,0,0,0)", tracegroupgap=0, itemwidth=50)

annotations.append(dict(text="Super Pathway", xref="paper", yref="paper", x=762 / W, y=1 - 3700 / H,
                        xanchor="center", yanchor="middle", showarrow=False,
                        font=dict(size=48, color="black", family=FONT)))
annotations.append(dict(text="FDR", xref="paper", yref="paper", x=2869 / W, y=1 - 3672 / H,
                        xanchor="center", yanchor="middle", showarrow=False,
                        font=dict(size=48, color="black", family=FONT)))

fig.update_layout(
    width=W, height=H, margin=dict(l=0, r=0, t=0, b=0, autoexpand=False),
    paper_bgcolor="white", plot_bgcolor="white",
    font=dict(family=FONT, color="black"),
    annotations=annotations, shapes=shapes,
)

fig.write_html("out.html", config={"displayModeBar": False},
               post_script="document.body.style.margin='0';")
